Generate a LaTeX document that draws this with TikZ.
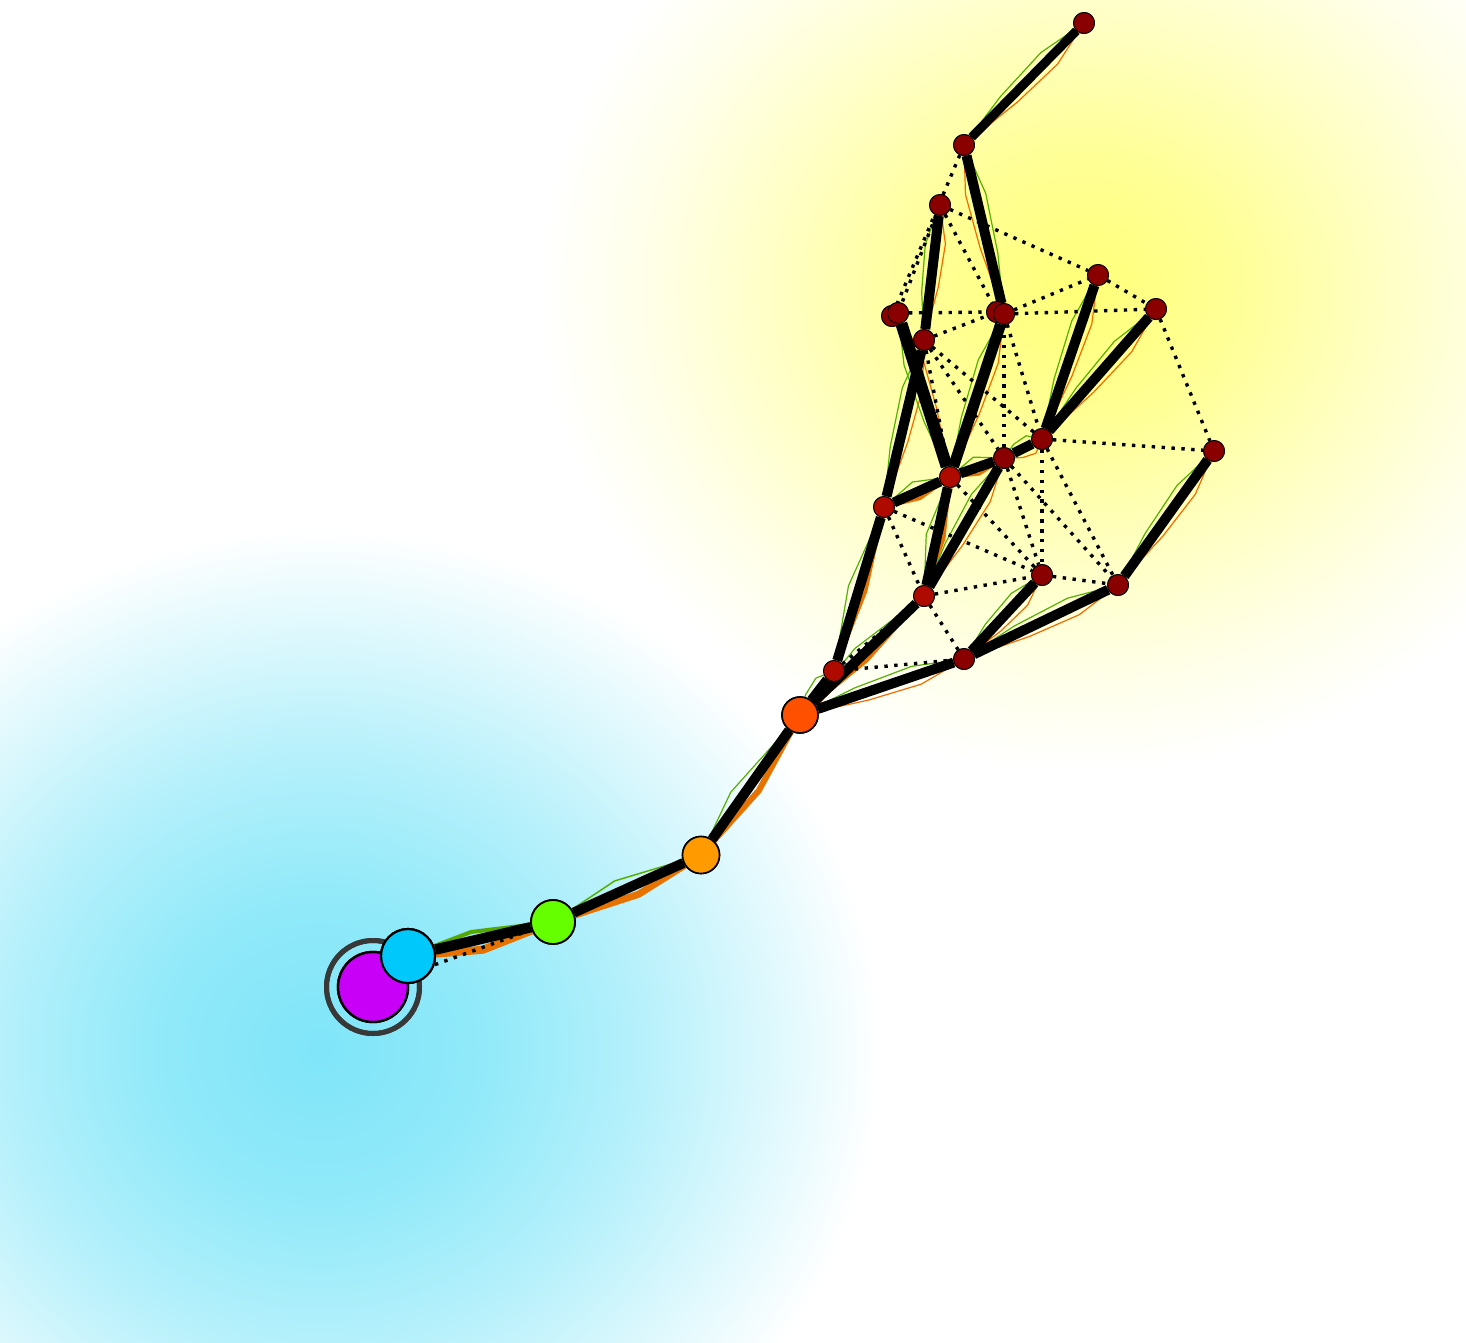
\documentclass[tikz,border=0pt]{standalone}
\usetikzlibrary{calc}
\definecolor{leafA}{HTML}{8A0000}
\definecolor{leafB}{HTML}{AE0A00}
\definecolor{gthinc}{HTML}{55B000}
\definecolor{othinc}{HTML}{F26A00}
\definecolor{obandc}{HTML}{E87200}
\definecolor{gbandc}{HTML}{55A800}
\definecolor{purplec}{HTML}{C800F8}
\definecolor{cyanc}{HTML}{00C8FA}
\definecolor{greenc}{HTML}{66FF00}
\definecolor{orangec}{HTML}{FF9A00}
\definecolor{redorc}{HTML}{FF5000}
\definecolor{ringc}{HTML}{383838}
\definecolor{cy0}{HTML}{80E5F9}
\definecolor{cy1}{HTML}{90E9F9}
\definecolor{cy2}{HTML}{B4F0FB}
\definecolor{cy3}{HTML}{DDF8FD}
\definecolor{ye0}{HTML}{FFFF78}
\definecolor{ye1}{HTML}{FFFF96}
\definecolor{ye2}{HTML}{FFFFC4}
\definecolor{ye3}{HTML}{FFFFE8}
\pgfdeclareradialshading{cyanglow}{\pgfpoint{0bp}{0bp}}{color(0bp)=(cy0); color(7bp)=(cy1); color(14bp)=(cy2); color(20bp)=(cy3); color(25bp)=(white); color(50bp)=(white)}
\pgfdeclareradialshading{yellowglow}{\pgfpoint{0bp}{0bp}}{color(0bp)=(ye0); color(7bp)=(ye1); color(14bp)=(ye2); color(20bp)=(ye3); color(25bp)=(white); color(50bp)=(white)}
\newcommand\twinline[4]{%
  \draw[gthin] (#1) -- ($(#1)!0.35!(#2)!8pt!#3:(#2)$) -- ($(#1)!0.7!(#2)!10pt!#3:(#2)$) -- (#2);
  \draw[othin] (#1) -- ($(#1)!0.4!(#2)!8pt!#4:(#2)$) -- ($(#1)!0.72!(#2)!10pt!#4:(#2)$) -- (#2);
}
\begin{document}
\begin{tikzpicture}[x=1pt,y=-1pt,
  blackedge/.style={line width=10pt, black},
  dotedge/.style={line width=3.4pt, black, dash pattern=on 3.4pt off 6.5pt},
  gthin/.style={line width=1.2pt, gthinc},
  othin/.style={line width=1.2pt, othinc},
  oband/.style={obandc, line join=round},
  gband/.style={gbandc, line join=round},
  leaf/.style={circle, draw=black, line width=0.9pt, minimum size=21pt, inner sep=0pt},
  bignode/.style={circle, draw=black, inner sep=0pt}]
\useasboundingbox (0,0) rectangle (1466,1342);
\fill[white] (0,0) rectangle (1466,1342);
\begin{scope}
\clip (0,0) rectangle (1466,1342);
\shade[shading=yellowglow] (1080,290) ellipse [x radius=540pt, y radius=480pt];
\shade[shading=cyanglow] (320,1050) ellipse [x radius=560pt, y radius=520pt];
\end{scope}

% node positions
\coordinate (pP) at (373,987);
\coordinate (pC) at (408,956);
\coordinate (pG) at (553,922);
\coordinate (pO) at (701,855);
\coordinate (pR) at (800,715);

\node[circle, draw=ringc, line width=5pt, minimum size=93pt, inner sep=0pt] (Pring) at (pP) {};
\node[bignode, line width=2.4pt, fill=purplec, minimum size=70pt] (P) at (pP) {};
\node[bignode, line width=2.2pt, fill=cyanc, minimum size=54pt] (C) at (pC) {};
\node[bignode, line width=1.8pt, fill=greenc, minimum size=44pt] (G) at (pG) {};
\node[bignode, line width=1.6pt, fill=orangec, minimum size=37pt] (O) at (pO) {};
\node[bignode, line width=1.6pt, fill=redorc, minimum size=36pt] (R) at (pR) {};

\node[leaf, fill=leafA] (n1) at (1084,23) {};
\node[leaf, fill=leafA] (n2) at (964,145) {};
\node[leaf, fill=leafA] (n3) at (940,205) {};
\node[leaf, fill=leafA] (n4) at (1098,275) {};
\node[leaf, fill=leafA] (n5) at (1156,309) {};
\node[leaf, fill=leafA] (n6a) at (892,316) {};
\node[leaf, fill=leafA] (n6b) at (898,313) {};
\node[leaf, fill=leafA] (n7a) at (997,312) {};
\node[leaf, fill=leafA] (n7b) at (1004,314) {};
\node[leaf, fill=leafA] (n8) at (924,340) {};
\node[leaf, fill=leafA] (n9) at (1042,439) {};
\node[leaf, fill=leafA] (n10) at (1004,458) {};
\node[leaf, fill=leafB] (n11) at (950,477) {};
\node[leaf, fill=leafB] (n12) at (884,507) {};
\node[leaf, fill=leafA] (n13) at (1214,451) {};
\node[leaf, fill=leafB] (n14) at (924,596) {};
\node[leaf, fill=leafA] (n15) at (1042,575) {};
\node[leaf, fill=leafA] (n16) at (1118,585) {};
\node[leaf, fill=leafA] (n17) at (964,659) {};
\node[leaf, fill=leafB] (n18) at (834,671) {};

% colored bands along main path
\draw[gband, line width=4pt] (C) -- ($(pC)!0.45!(pG)!9pt!90:(pG)$) -- (G);
\draw[oband, line width=8pt] (C) -- ($(pC)!0.5!(pG)!11pt!-90:(pG)$) -- (G);
\draw[gthin, line width=1.5pt] (G) -- ($(pG)!0.45!(pO)!12pt!90:(pO)$) -- (O);
\draw[oband, line width=7pt] (G) -- ($(pG)!0.55!(pO)!10pt!-90:(pO)$) -- (O);
\draw[gthin] (O) -- ($(pO)!0.4!(pR)!12pt!90:(pR)$) -- (R);
\draw[oband, line width=6pt] (O) -- ($(pO)!0.5!(pR)!10pt!-90:(pR)$) -- (R);
\draw[gthin] (R) -- ($(R)!0.5!(n14)!10pt!90:(n14)$) -- (n14);
\draw[oband, line width=3.5pt] (R) -- ($(R)!0.5!(n14)!7pt!-90:(n14)$) -- (n14);
\draw[gthin] (n18) -- ($(n18)!0.5!(n12)!11pt!90:(n12)$) -- (n12);
\draw[oband, line width=3.5pt] (n18) -- ($(n18)!0.5!(n12)!7pt!-90:(n12)$) -- (n12);
\draw[gthin] (n12) -- ($(n12)!0.5!(n11)!11pt!90:(n11)$) -- (n11);
\draw[oband, line width=3.5pt] (n12) -- ($(n12)!0.5!(n11)!7pt!-90:(n11)$) -- (n11);
\draw[oband, line width=3pt] (n11) -- ($(n11)!0.5!(n10)!7pt!-90:(n10)$) -- (n10);
\draw[gthin] (n11) -- ($(n11)!0.5!(n10)!11pt!90:(n10)$) -- (n10);
\draw[gthin] (n14) -- ($(n14)!0.5!(n11)!11pt!90:(n11)$) -- (n11);
\draw[oband, line width=3.5pt] (n14) -- ($(n14)!0.5!(n11)!7pt!-90:(n11)$) -- (n11);

% thin jittered twins
\twinline{R}{n18}{90}{-90}
\twinline{R}{n17}{90}{-90}
\twinline{n14}{n10}{90}{-90}
\twinline{n17}{n16}{90}{-90}
\twinline{n17}{n15}{90}{-90}
\twinline{n16}{n13}{90}{-90}
\twinline{n9}{n4}{90}{-90}
\twinline{n9}{n5}{90}{-90}
\twinline{n10}{n9}{90}{-90}
\twinline{n12}{n8}{90}{-90}
\twinline{n8}{n3}{90}{-90}
\twinline{n11}{n6b}{90}{-90}
\twinline{n11}{n7b}{90}{-90}
\twinline{n7b}{n2}{-90}{90}
\twinline{n2}{n1}{90}{-90}

% dotted edges
\draw[dotedge] (P) -- (G);
\draw[dotedge] (n2) -- (n6a);
\draw[dotedge] (n3) -- (n6b);
\draw[dotedge] (n3) -- (n7a);
\draw[dotedge] (n3) -- (n4);
\draw[dotedge] (n6b) -- (n7a);
\draw[dotedge] (n8) -- (n7a);
\draw[dotedge] (n7b) -- (n4);
\draw[dotedge] (n7b) -- (n5);
\draw[dotedge] (n4) -- (n5);
\draw[dotedge] (n5) -- (n13);
\draw[dotedge] (n9) -- (n13);
\draw[dotedge] (n7b) -- (n10);
\draw[dotedge] (n7b) -- (n9);
\draw[dotedge] (n8) -- (n11);
\draw[dotedge] (n8) -- (n10);
\draw[dotedge] (n8) -- (n9);
\draw[dotedge] (n9) -- (n15);
\draw[dotedge] (n9) -- (n16);
\draw[dotedge] (n10) -- (n15);
\draw[dotedge] (n10) -- (n16);
\draw[dotedge] (n11) -- (n15);
\draw[dotedge] (n12) -- (n14);
\draw[dotedge] (n12) -- (n15);
\draw[dotedge] (n14) -- (n15);
\draw[dotedge] (n14) -- (n17);
\draw[dotedge] (n18) -- (n17);
\draw[dotedge] (n15) -- (n16);
\draw[dotedge] (n18) -- (n14);

% thick edges
\draw[blackedge, line width=10.5pt] (C) -- (G);
\draw[blackedge] (G) -- (O);
\draw[blackedge] (O) -- (R);
\draw[blackedge] (R) -- (n18);
\draw[blackedge] (R) -- (n14);
\draw[blackedge] (R) -- (n17);
\draw[blackedge] (n18) -- (n12);
\draw[blackedge] (n12) -- (n11);
\draw[blackedge] (n11) -- (n10);
\draw[blackedge] (n10) -- (n9);
\draw[blackedge] (n12) -- (n8);
\draw[blackedge] (n8) -- (n3);
\draw[blackedge, line width=12pt] (n6b) -- (n11);
\draw[blackedge, line width=11pt] (n7b) -- (n11);
\draw[blackedge] (n2) -- (n7b);
\draw[blackedge, line width=9pt] (n1) -- (n2);
\draw[blackedge] (n4) -- (n9);
\draw[blackedge] (n5) -- (n9);
\draw[blackedge] (n13) -- (n16);
\draw[blackedge] (n17) -- (n16);
\draw[blackedge] (n17) -- (n15);
\draw[blackedge] (n14) -- (n11);
\draw[blackedge] (n14) -- (n10);

% redraw nodes on top
\node[circle, draw=ringc, line width=5pt, minimum size=93pt, inner sep=0pt] at (pP) {};
\node[bignode, line width=2.4pt, fill=purplec, minimum size=70pt] at (pP) {};
\node[bignode, line width=2.2pt, fill=cyanc, minimum size=54pt] at (pC) {};
\node[bignode, line width=1.8pt, fill=greenc, minimum size=44pt] at (pG) {};
\node[bignode, line width=1.6pt, fill=orangec, minimum size=37pt] at (pO) {};
\node[bignode, line width=1.6pt, fill=redorc, minimum size=36pt] at (pR) {};
\foreach \nm/\cc in {n1/leafA,n2/leafA,n3/leafA,n4/leafA,n5/leafA,n6a/leafA,n6b/leafA,n7a/leafA,n7b/leafA,n8/leafA,n9/leafA,n10/leafA,n11/leafB,n12/leafB,n13/leafA,n14/leafB,n15/leafA,n16/leafA,n17/leafA,n18/leafB}{
  \node[leaf, fill=\cc] at (\nm.center) {};
}
\end{tikzpicture}
\end{document}
